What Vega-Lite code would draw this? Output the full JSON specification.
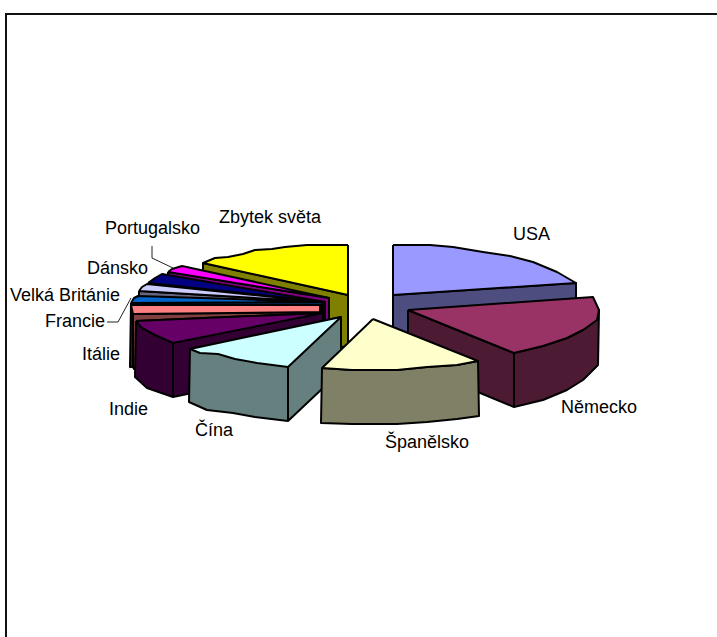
{
"$schema":"https://vega.github.io/schema/vega-lite/v6.json",
"width":717,"height":637,"padding":0,
"autosize":{"type":"none"},
"background":"white",
"config":{"view":{"stroke":null}},
"datasets":{
"faces":[
{"face":"USA bok","step":0,"x":393,"y":295},{"face":"USA bok","step":1,"x":576,"y":283},{"face":"USA bok","step":2,"x":576,"y":337},{"face":"USA bok","step":3,"x":393,"y":349},{"face":"USA bok","step":4,"x":393,"y":295},
{"face":"USA","step":0,"x":393,"y":245},{"face":"USA","step":1,"x":430,"y":245},{"face":"USA","step":2,"x":453,"y":247},{"face":"USA","step":3,"x":483,"y":252},{"face":"USA","step":4,"x":510,"y":256},{"face":"USA","step":5,"x":533,"y":262},{"face":"USA","step":6,"x":557,"y":272},{"face":"USA","step":7,"x":576,"y":283},{"face":"USA","step":8,"x":393,"y":295},{"face":"USA","step":9,"x":393,"y":245},
{"face":"Zbytek bok","step":0,"x":203,"y":263},{"face":"Zbytek bok","step":1,"x":348,"y":295},{"face":"Zbytek bok","step":2,"x":348,"y":348},{"face":"Zbytek bok","step":3,"x":203,"y":316},{"face":"Zbytek bok","step":4,"x":203,"y":263},
{"face":"Zbytek","step":0,"x":348,"y":245},{"face":"Zbytek","step":1,"x":307,"y":245},{"face":"Zbytek","step":2,"x":285,"y":247},{"face":"Zbytek","step":3,"x":272,"y":249},{"face":"Zbytek","step":4,"x":255,"y":250},{"face":"Zbytek","step":5,"x":243,"y":254},{"face":"Zbytek","step":6,"x":228,"y":257},{"face":"Zbytek","step":7,"x":215,"y":258},{"face":"Zbytek","step":8,"x":203,"y":263},{"face":"Zbytek","step":9,"x":348,"y":295},{"face":"Zbytek","step":10,"x":348,"y":245},
{"face":"Portugalsko bok","step":0,"x":168,"y":272},{"face":"Portugalsko bok","step":1,"x":329,"y":298},{"face":"Portugalsko bok","step":2,"x":329,"y":351},{"face":"Portugalsko bok","step":3,"x":168,"y":325},{"face":"Portugalsko bok","step":4,"x":168,"y":272},
{"face":"Portugalsko","step":0,"x":168,"y":272},{"face":"Portugalsko","step":1,"x":172,"y":269},{"face":"Portugalsko","step":2,"x":182,"y":266},{"face":"Portugalsko","step":3,"x":329,"y":298},{"face":"Portugalsko","step":4,"x":168,"y":272},
{"face":"Dánsko bok","step":0,"x":148,"y":283},{"face":"Dánsko bok","step":1,"x":325,"y":302},{"face":"Dánsko bok","step":2,"x":325,"y":355},{"face":"Dánsko bok","step":3,"x":148,"y":336},{"face":"Dánsko bok","step":4,"x":148,"y":283},
{"face":"Dánsko","step":0,"x":148,"y":283},{"face":"Dánsko","step":1,"x":155,"y":278},{"face":"Dánsko","step":2,"x":162,"y":274},{"face":"Dánsko","step":3,"x":325,"y":302},{"face":"Dánsko","step":4,"x":148,"y":283},
{"face":"Velká Británie bok","step":0,"x":139,"y":291},{"face":"Velká Británie bok","step":1,"x":322,"y":302},{"face":"Velká Británie bok","step":2,"x":322,"y":355},{"face":"Velká Británie bok","step":3,"x":139,"y":344},{"face":"Velká Británie bok","step":4,"x":139,"y":291},
{"face":"Velká Británie","step":0,"x":139,"y":291},{"face":"Velká Británie","step":1,"x":142,"y":287},{"face":"Velká Británie","step":2,"x":147,"y":284},{"face":"Velká Británie","step":3,"x":322,"y":302},{"face":"Velká Británie","step":4,"x":139,"y":291},
{"face":"Francie bok","step":0,"x":131,"y":303},{"face":"Francie bok","step":1,"x":322,"y":302},{"face":"Francie bok","step":2,"x":322,"y":356},{"face":"Francie bok","step":3,"x":130,"y":367},{"face":"Francie bok","step":4,"x":131,"y":303},
{"face":"Francie","step":0,"x":131,"y":303},{"face":"Francie","step":1,"x":134,"y":298},{"face":"Francie","step":2,"x":138,"y":296},{"face":"Francie","step":3,"x":322,"y":302},{"face":"Francie","step":4,"x":131,"y":303},
{"face":"Itálie bok","step":0,"x":133,"y":314},{"face":"Itálie bok","step":1,"x":320,"y":312},{"face":"Itálie bok","step":2,"x":320,"y":365},{"face":"Itálie bok","step":3,"x":134,"y":369},{"face":"Itálie bok","step":4,"x":133,"y":367},{"face":"Itálie bok","step":5,"x":133,"y":314},
{"face":"Itálie","step":0,"x":131,"y":305},{"face":"Itálie","step":1,"x":320,"y":305},{"face":"Itálie","step":2,"x":320,"y":312},{"face":"Itálie","step":3,"x":133,"y":314},{"face":"Itálie","step":4,"x":131,"y":305},
{"face":"Indie bok","step":0,"x":136,"y":321},{"face":"Indie bok","step":1,"x":323,"y":313},{"face":"Indie bok","step":2,"x":323,"y":366},{"face":"Indie bok","step":3,"x":173,"y":397},{"face":"Indie bok","step":4,"x":147,"y":388},{"face":"Indie bok","step":5,"x":135,"y":377},{"face":"Indie bok","step":6,"x":136,"y":321},
{"face":"Indie","step":0,"x":136,"y":321},{"face":"Indie","step":1,"x":142,"y":328},{"face":"Indie","step":2,"x":155,"y":335},{"face":"Indie","step":3,"x":173,"y":343},{"face":"Indie","step":4,"x":323,"y":313},{"face":"Indie","step":5,"x":136,"y":321},
{"face":"Indie hrana","step":0,"x":173,"y":343},{"face":"Indie hrana","step":1,"x":173,"y":397},
{"face":"Německo bok","step":0,"x":408,"y":310},{"face":"Německo bok","step":1,"x":514,"y":353},{"face":"Německo bok","step":2,"x":543,"y":346},{"face":"Německo bok","step":3,"x":567,"y":338},{"face":"Německo bok","step":4,"x":583,"y":330},{"face":"Německo bok","step":5,"x":597,"y":320},{"face":"Německo bok","step":6,"x":599,"y":310},{"face":"Německo bok","step":7,"x":598,"y":365},{"face":"Německo bok","step":8,"x":583,"y":380},{"face":"Německo bok","step":9,"x":567,"y":390},{"face":"Německo bok","step":10,"x":543,"y":400},{"face":"Německo bok","step":11,"x":514,"y":407},{"face":"Německo bok","step":12,"x":408,"y":363},{"face":"Německo bok","step":13,"x":408,"y":310},
{"face":"Německo","step":0,"x":408,"y":310},{"face":"Německo","step":1,"x":593,"y":297},{"face":"Německo","step":2,"x":599,"y":310},{"face":"Německo","step":3,"x":597,"y":320},{"face":"Německo","step":4,"x":583,"y":330},{"face":"Německo","step":5,"x":567,"y":338},{"face":"Německo","step":6,"x":543,"y":346},{"face":"Německo","step":7,"x":514,"y":353},{"face":"Německo","step":8,"x":408,"y":310},
{"face":"Německo hrana","step":0,"x":514,"y":353},{"face":"Německo hrana","step":1,"x":514,"y":407},
{"face":"Čína bok","step":0,"x":341,"y":317},{"face":"Čína bok","step":1,"x":341,"y":371},{"face":"Čína bok","step":2,"x":288,"y":421},{"face":"Čína bok","step":3,"x":255,"y":417},{"face":"Čína bok","step":4,"x":233,"y":413},{"face":"Čína bok","step":5,"x":207,"y":410},{"face":"Čína bok","step":6,"x":189,"y":402},{"face":"Čína bok","step":7,"x":190,"y":349},{"face":"Čína bok","step":8,"x":341,"y":317},
{"face":"Čína","step":0,"x":190,"y":349},{"face":"Čína","step":1,"x":200,"y":353},{"face":"Čína","step":2,"x":218,"y":354},{"face":"Čína","step":3,"x":235,"y":359},{"face":"Čína","step":4,"x":257,"y":363},{"face":"Čína","step":5,"x":288,"y":367},{"face":"Čína","step":6,"x":341,"y":317},{"face":"Čína","step":7,"x":190,"y":349},
{"face":"Čína hrana","step":0,"x":288,"y":367},{"face":"Čína hrana","step":1,"x":288,"y":421},
{"face":"Španělsko bok","step":0,"x":322,"y":368},{"face":"Španělsko bok","step":1,"x":352,"y":370},{"face":"Španělsko bok","step":2,"x":397,"y":370},{"face":"Španělsko bok","step":3,"x":427,"y":367},{"face":"Španělsko bok","step":4,"x":457,"y":365},{"face":"Španělsko bok","step":5,"x":478,"y":361},{"face":"Španělsko bok","step":6,"x":479,"y":416},{"face":"Španělsko bok","step":7,"x":457,"y":419},{"face":"Španělsko bok","step":8,"x":427,"y":422},{"face":"Španělsko bok","step":9,"x":397,"y":424},{"face":"Španělsko bok","step":10,"x":352,"y":424},{"face":"Španělsko bok","step":11,"x":321,"y":423},{"face":"Španělsko bok","step":12,"x":322,"y":368},
{"face":"Španělsko","step":0,"x":373,"y":319},{"face":"Španělsko","step":1,"x":322,"y":368},{"face":"Španělsko","step":2,"x":352,"y":370},{"face":"Španělsko","step":3,"x":397,"y":370},{"face":"Španělsko","step":4,"x":427,"y":367},{"face":"Španělsko","step":5,"x":457,"y":365},{"face":"Španělsko","step":6,"x":478,"y":361},{"face":"Španělsko","step":7,"x":373,"y":319}
],
"labels":[
{"name":"Zbytek světa","x":219,"y":223},
{"name":"USA","x":513,"y":240},
{"name":"Německo","x":561,"y":413},
{"name":"Španělsko","x":385,"y":448},
{"name":"Čína","x":195,"y":436},
{"name":"Indie","x":109,"y":415},
{"name":"Itálie","x":82,"y":360},
{"name":"Francie","x":45,"y":327},
{"name":"Velká Británie","x":10,"y":301},
{"name":"Dánsko","x":87,"y":274},
{"name":"Portugalsko","x":105,"y":234}
],
"leaders":[
{"line":"Portugalsko","step":0,"x":152,"y":246},{"line":"Portugalsko","step":1,"x":152,"y":258},{"line":"Portugalsko","step":2,"x":173,"y":268},
{"line":"Francie","step":0,"x":107,"y":322},{"line":"Francie","step":1,"x":118,"y":322},{"line":"Francie","step":2,"x":131,"y":298}
],
"frame":[
{"step":0,"x":6,"y":637},{"step":1,"x":6,"y":14},{"step":2,"x":717,"y":14}
]
},
"encoding":{
"x":{"field":"x","type":"quantitative","scale":{"domain":[0,717],"nice":false,"zero":false},"axis":null},
"y":{"field":"y","type":"quantitative","scale":{"domain":[637,0],"nice":false,"zero":false},"axis":null}
},
"layer":[
{"data":{"name":"frame"},"mark":{"type":"line","stroke":"#111111","strokeWidth":2},"encoding":{"order":{"field":"step"}}},
{"data":{"name":"faces"},
 "mark":{"type":"line","filled":true,"stroke":"#000000","strokeWidth":2,"strokeJoin":"round","interpolate":"linear"},
 "encoding":{"order":{"field":"step"},
  "fill":{"field":"face","type":"nominal","legend":null,"sort":null,
   "scale":{"domain":["USA bok","USA","Zbytek bok","Zbytek","Portugalsko bok","Portugalsko","Dánsko bok","Dánsko","Velká Británie bok","Velká Británie","Francie bok","Francie","Itálie bok","Itálie","Indie bok","Indie","Indie hrana","Německo bok","Německo","Německo hrana","Čína bok","Čína","Čína hrana","Španělsko bok","Španělsko"],
   "range":["#4D4D80","#9999FF","#808000","#FFFF00","#800080","#FF00FF","#000040","#000080","#666680","#CCCCFF","#003366","#0066CC","#804040","#FF8080","#330033","#660066","#330033","#4D1A33","#993366","#4D1A33","#668080","#CCFFFF","#668080","#808066","#FFFFCC"]}}}},
{"data":{"name":"leaders"},"mark":{"type":"line","stroke":"#222222","strokeWidth":1},"encoding":{"order":{"field":"step"},"detail":{"field":"line"}}},
{"data":{"name":"labels"},"mark":{"type":"text","align":"left","baseline":"alphabetic","font":"Liberation Sans","fontSize":18,"fill":"#000000"},"encoding":{"text":{"field":"name"}}}
]
}
